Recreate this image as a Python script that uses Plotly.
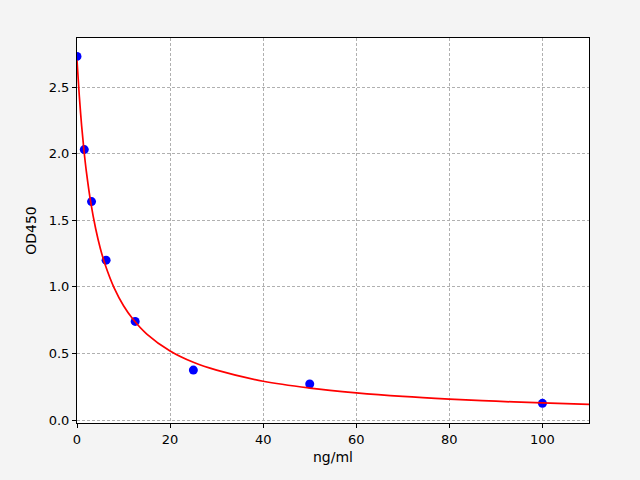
import plotly.graph_objects as go

# standard points (concentration vs OD)
conc = [0, 1.5625, 3.125, 6.25, 12.5, 25, 50, 100]
od450 = [2.73, 2.03, 1.64, 1.20, 0.74, 0.375, 0.27, 0.125]

# fitted curve
curve_x = [0, 0.25, 0.5, 1, 1.5, 2, 3, 4, 5, 6, 8, 10, 12, 15, 20, 25, 30,
           40, 50, 60, 70, 80, 90, 100, 110]
curve_y = [2.70, 2.565, 2.431, 2.207, 2.023, 1.869, 1.624, 1.438, 1.290, 1.171,
           0.990, 0.858, 0.758, 0.645, 0.518, 0.433, 0.374, 0.291, 0.240, 0.204,
           0.177, 0.157, 0.141, 0.128, 0.117]

x_ticks = [0, 20, 40, 60, 80, 100]
y_ticks = [0.0, 0.5, 1.0, 1.5, 2.0, 2.5]

fig = go.Figure()
fig.add_trace(go.Scatter(x=conc, y=od450, mode='markers',
                         marker=dict(color='#0000ff', size=9), showlegend=False))
fig.add_trace(go.Scatter(x=curve_x, y=curve_y, mode='lines', line_shape='spline',
                         line=dict(color='#ff0000', width=1.7), showlegend=False))

axis_common = dict(showline=True, linecolor='black', linewidth=1, mirror=True,
                   ticks='outside', ticklen=4, tickcolor='black',
                   showgrid=True, gridcolor='#b0b0b0', griddash='3px,2px', gridwidth=1,
                   zeroline=False, tickfont=dict(family='DejaVu Sans', size=13, color='black'))

# page body has an 8px margin, so the figure is made 8px smaller each way
fig.update_layout(
    width=632, height=472,
    paper_bgcolor='#f4f4f4', plot_bgcolor='white',
    margin=dict(l=69, r=51, t=30, b=57),
    font=dict(family='DejaVu Sans', size=13, color='black'),
    xaxis=dict(range=[0, 110], tickvals=x_ticks, ticktext=[str(v) for v in x_ticks],
               title=dict(text='ng/ml', standoff=6, font=dict(size=14)), **axis_common),
    yaxis=dict(range=[-0.0225, 2.868], tickvals=y_ticks,
               ticktext=['%.1f' % v for v in y_ticks],
               title=dict(text='OD450', standoff=8, font=dict(size=14)), **axis_common),
)

fig.write_html("out.html", post_script="document.body.style.background='#f4f4f4';")
